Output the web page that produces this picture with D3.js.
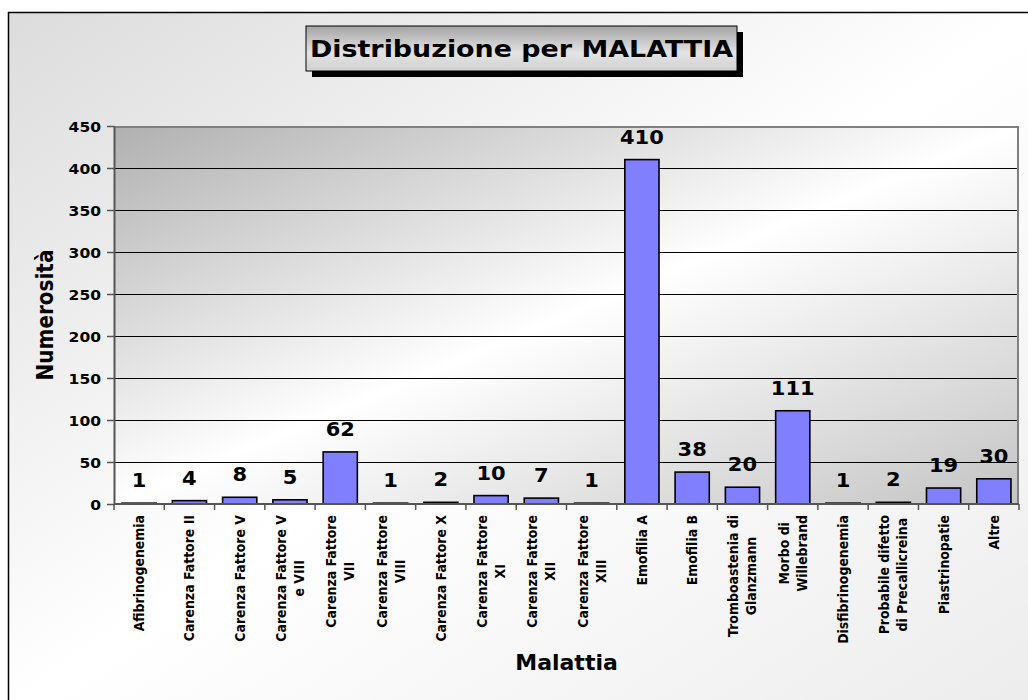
<!DOCTYPE html>
<html>
<head>
<meta charset="utf-8">
<script src="https://cdn.jsdelivr.net/npm/d3@7"></script>
<style>
  body { margin: 0; background: #fff; }
  svg { display: block; font-family: "DejaVu Sans", Verdana, sans-serif; }
</style>
</head>
<body>
<svg id="drawing_region"></svg>
<script>
// categorie (righe separate dove l'etichetta va a capo)
const categories = [
  ['Afibrinogenemia'],
  ['Carenza Fattore II'],
  ['Carenza Fattore V'],
  ['Carenza Fattore V', 'e VIII'],
  ['Carenza Fattore', 'VII'],
  ['Carenza Fattore', 'VIII'],
  ['Carenza Fattore X'],
  ['Carenza Fattore', 'XI'],
  ['Carenza Fattore', 'XII'],
  ['Carenza Fattore', 'XIII'],
  ['Emofilia A'],
  ['Emofilia B'],
  ['Tromboastenia di', 'Glanzmann'],
  ['Morbo di', 'Willebrand'],
  ['Disfibrinogenemia'],
  ['Probabile difetto', 'di Precallicreina'],
  ['Piastrinopatie'],
  ['Altre']
]
const values = [1, 4, 8, 5, 62, 1, 2, 10, 7, 1, 410, 38, 20, 111, 1, 2, 19, 30]
const yTicks = [0, 50, 100, 150, 200, 250, 300, 350, 400, 450]

const titleText = 'Distribuzione per MALATTIA'
const xTitle = 'Malattia'
const yTitle = 'Numerosità'

const W = 1028, H = 700
const plot = {left: 114, top: 126, right: 1019, bottom: 504}
const sx = 1.15   // il grafico originale è leggermente stirato in orizzontale

const svg = d3.select('#drawing_region').attr('width', W).attr('height', H)
const defs = svg.append('defs')

function diagGrad(id, edge, mid) {
  const g = defs.append('linearGradient').attr('id', id)
    .attr('x1', 0).attr('y1', 0).attr('x2', 1).attr('y2', 1)
  g.append('stop').attr('offset', 0).attr('stop-color', edge[0])
  g.append('stop').attr('offset', 0.5).attr('stop-color', mid)
  g.append('stop').attr('offset', 1).attr('stop-color', edge[1])
}
diagGrad('bgGrad', ['#dcdcdc', '#ececec'], '#ffffff')
diagGrad('plotGrad', ['#b0b0b0', '#c4c4c4'], '#ffffff')

const tg = defs.append('linearGradient').attr('id', 'titleGrad')
  .attr('x1', 0).attr('y1', 0).attr('x2', 0).attr('y2', 1)
tg.append('stop').attr('offset', 0).attr('stop-color', '#a4a4a4')
tg.append('stop').attr('offset', 0.6).attr('stop-color', '#e4e4e4')
tg.append('stop').attr('offset', 1).attr('stop-color', '#d0d0d0')

// sfondo e cornice esterna
svg.append('rect')
  .attr('x', 8.5).attr('y', 12.5).attr('width', W).attr('height', H)
  .attr('fill', 'url(#bgGrad)')
  .attr('stroke', '#000').attr('stroke-width', 1.5)

// area del grafico
svg.append('rect')
  .attr('x', plot.left).attr('y', plot.top)
  .attr('width', plot.right - plot.left).attr('height', plot.bottom - plot.top)
  .attr('fill', 'url(#plotGrad)')

const x = d3.scaleBand()
  .domain(d3.range(categories.length))
  .range([plot.left, plot.right])
  .paddingInner(0.32).paddingOuter(0.16)

const y = d3.scaleLinear().domain([0, 450]).range([plot.bottom, plot.top])

// griglia
svg.append('g').selectAll('line').data(yTicks.filter(d => d > 0 && d < 450)).enter()
  .append('line')
  .attr('x1', plot.left).attr('x2', plot.right)
  .attr('y1', d => y(d) + 0.5).attr('y2', d => y(d) + 0.5)
  .attr('stroke', '#000').attr('stroke-width', 1)

// bordo superiore e destro
svg.append('path')
  .attr('d', `M${plot.left},${plot.top + 1}H${plot.right - 1}V${plot.bottom}`)
  .attr('fill', 'none').attr('stroke', '#808080').attr('stroke-width', 2)

// barre
svg.append('g').selectAll('rect').data(values).enter()
  .append('rect')
  .attr('x', (d, i) => x(i))
  .attr('y', d => y(d))
  .attr('width', x.bandwidth())
  .attr('height', d => y(0) - y(d))
  .attr('fill', '#8080ff')
  .attr('stroke', '#000').attr('stroke-width', 1.6)

// etichette valori
svg.append('g').selectAll('text').data(values).enter()
  .append('text')
  .attr('transform', (d, i) => `translate(${x(i) + x.bandwidth() / 2},${y(d) - 16}) scale(1.05,1)`)
  .attr('text-anchor', 'middle')
  .attr('font-size', 20).attr('font-weight', 'bold')
  .text(d => d)

// asse y
const yaxis = d3.axisLeft(y).tickValues(yTicks).tickSize(7).tickSizeOuter(0).tickPadding(6)
const yg = svg.append('g').attr('transform', `translate(${plot.left},0)`).call(yaxis)
yg.select('.domain').attr('stroke', '#555').attr('stroke-width', 2)
yg.selectAll('.tick line').attr('stroke', '#555').attr('stroke-width', 1.5)
yg.selectAll('.tick text')
  .attr('font-family', '"DejaVu Sans", Verdana, sans-serif')
  .attr('font-size', 13.5).attr('font-weight', 'bold').attr('fill', '#000')
  .attr('x', null).attr('dy', null)
  .attr('transform', `translate(-13,5) scale(${sx},1)`)

// asse x: tacche ai confini delle categorie
const step = x.step()
const bounds = d3.range(categories.length + 1).map(i => plot.left + i * step)
const xg = svg.append('g')
xg.append('line')
  .attr('x1', plot.left).attr('x2', plot.right)
  .attr('y1', plot.bottom).attr('y2', plot.bottom)
  .attr('stroke', '#555').attr('stroke-width', 2)
xg.selectAll('.tk').data(bounds).enter()
  .append('line').attr('class', 'tk')
  .attr('x1', d => d).attr('x2', d => d)
  .attr('y1', plot.bottom).attr('y2', plot.bottom + 6)
  .attr('stroke', '#555').attr('stroke-width', 1.5)

// etichette categorie, ruotate
const lineGap = 18
categories.forEach((lines, i) => {
  const cx = x(i) + x.bandwidth() / 2
  const g = svg.append('g')
  const texts = lines.map(l => g.append('text')
    .attr('font-size', 12.5).attr('font-weight', 'bold')
    .attr('text-anchor', 'middle')
    .text(l))
  const maxLen = d3.max(texts, t => t.node().getComputedTextLength())
  const cy = 515 + maxLen / 2
  const n = lines.length
  texts.forEach((t, j) => {
    const off = (j - (n - 1) / 2) * lineGap + 5
    t.attr('transform', `translate(${cx + off},${cy}) scale(${sx},1) rotate(-90)`)
  })
})

// titoli assi
svg.append('text')
  .attr('transform', `translate(${(plot.left + plot.right) / 2},670)`)
  .attr('text-anchor', 'middle')
  .attr('font-size', 22).attr('font-weight', 'bold')
  .text(xTitle)

svg.append('text')
  .attr('transform', `translate(53,${(plot.top + plot.bottom) / 2}) scale(${sx},1) rotate(-90)`)
  .attr('text-anchor', 'middle')
  .attr('font-size', 20).attr('font-weight', 'bold')
  .text(yTitle)

// titolo con ombra
const tb = {x: 306, y: 26, w: 431, h: 45}
svg.append('rect')
  .attr('x', tb.x + 6).attr('y', tb.y + 6).attr('width', tb.w).attr('height', tb.h)
  .attr('fill', '#000')
svg.append('rect')
  .attr('x', tb.x).attr('y', tb.y).attr('width', tb.w).attr('height', tb.h)
  .attr('fill', 'url(#titleGrad)')
  .attr('stroke', '#000').attr('stroke-width', 1)
svg.append('text')
  .attr('transform', `translate(${tb.x + tb.w / 2},${tb.y + 31}) scale(1.17,1)`)
  .attr('text-anchor', 'middle')
  .attr('font-size', 23).attr('font-weight', 'bold')
  .text(titleText)
</script>
</body>
</html>
